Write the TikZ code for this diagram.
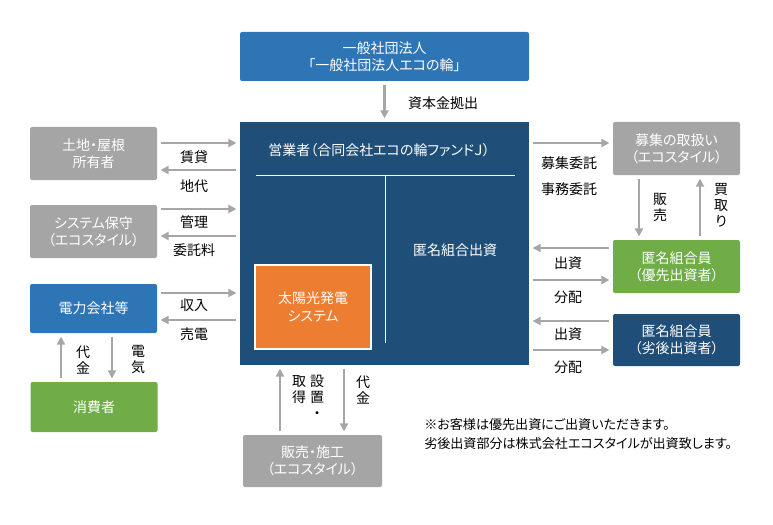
\documentclass[tikz,border=0pt]{standalone}
\usepackage{fontspec}
\setmainfont{Noto Sans CJK JP}[RawFeature={+palt}]
\usepackage{xcolor}
\definecolor{corpblue}{RGB}{46,117,182}
\definecolor{navy}{RGB}{31,78,121}
\definecolor{boxgray}{RGB}{165,165,165}
\definecolor{arrowgray}{RGB}{166,166,166}
\definecolor{leafgreen}{RGB}{112,173,71}
\definecolor{solarorange}{RGB}{237,125,49}
\usepackage{tikz}
\usetikzlibrary{arrows.meta, positioning, calc}

\begin{document}
\begin{tikzpicture}[x=0.75pt, y=-0.75pt,
    box/.style={rectangle, rounded corners=1.5pt, inner sep=0pt, text=white,
      minimum width=95.25pt, minimum height=39.75pt, align=center,
      font=\fontsize{10.5}{13}\selectfont},
    arrow/.style={draw=arrowgray, line width=1.6pt, -{Triangle[length=6pt, width=6pt]},
      shorten <=2.5pt, shorten >=2.5pt},
    lbl/.style={font=\fontsize{10.5}{12}\selectfont, align=center, inner sep=0pt}
]
\useasboundingbox (0,0) rectangle (773,524);

% operator in the middle
\node[box, fill=corpblue, minimum width=216.75pt, minimum height=36.75pt] (assoc) at (384.5,56.5) {一般社団法人\\「一般社団法人エコの輪」};
\node[box, fill=navy, rounded corners=0pt, minimum width=216.75pt, minimum height=182.25pt] (oper) at (384.5,243.5) {};
\node[lbl, text=white, anchor=west] (opertitle) at (268,150) {営業者（合同会社エコの輪ファンドＪ）};
\draw[white, line width=0.75pt] (256,175) -- (515,175);
\draw[white, line width=0.75pt] (385,175) -- (385,343);
\node[lbl, text=white] (tokumei) at (455,250) {匿名組合出資};
\node[box, fill=solarorange, draw=white, line width=1.5pt, rounded corners=0pt,
  minimum width=87pt, minimum height=63pt] (solar) at (313,307) {太陽光発電\\システム};

% left side
\node[box, fill=boxgray] (land) at (93.5,153.5) {土地・屋根\\所有者};
\node[box, fill=boxgray] (maint) at (93.5,231.5) {システム保守\\（エコスタイル）};
\node[box, fill=corpblue, minimum height=36.75pt] (power) at (93.5,308.5) {電力会社等};
\node[box, fill=leafgreen, minimum height=37.5pt] (consumer) at (94,407) {消費者};

% bottom
\node[box, fill=boxgray, minimum width=104.25pt, minimum height=39pt] (sales) at (312.5,461) {販売・施工\\（エコスタイル）};

% right side
\node[box, fill=boxgray] (recruit) at (676.5,148.5) {募集の取扱い\\（エコスタイル）};
\node[box, fill=leafgreen] (senior) at (676.5,266.5) {匿名組合員\\（優先出資者）};
\node[box, fill=navy, minimum height=39pt] (junior) at (676.5,340) {匿名組合員\\（劣後出資者）};

% connectors
\draw[arrow] (assoc) -- (oper);
\draw[arrow] (land.east |- 0,143) -- (oper.west |- 0,143);
\draw[arrow] (oper.west |- 0,170) -- (land.east |- 0,170);
\draw[arrow] (maint.east |- 0,209) -- (oper.west |- 0,209);
\draw[arrow] (oper.west |- 0,236) -- (maint.east |- 0,236);
\draw[arrow] (power.east |- 0,293) -- (oper.west |- 0,293);
\draw[arrow] (oper.west |- 0,320) -- (power.east |- 0,320);
\draw[arrow] (consumer.north -| 61,0) -- (power.south -| 61,0);
\draw[arrow] (power.south -| 112,0) -- (consumer.north -| 112,0);
\draw[arrow] (sales.north -| 280,0) -- (oper.south -| 280,0);
\draw[arrow] (oper.south -| 344,0) -- (sales.north -| 344,0);
\draw[arrow] (oper.east |- 0,143) -- (recruit.west |- 0,143);
\draw[arrow] (recruit.south -| 639,0) -- (senior.north -| 639,0);
\draw[arrow] (senior.north -| 700,0) -- (recruit.south -| 700,0);
\draw[arrow] (senior.west |- 0,248) -- (oper.east |- 0,248);
\draw[arrow] (oper.east |- 0,280) -- (senior.west |- 0,280);
\draw[arrow] (junior.west |- 0,321) -- (oper.east |- 0,321);
\draw[arrow] (oper.east |- 0,350) -- (junior.west |- 0,350);

% labels
\node[lbl] (capital) at (443,103) {資本金拠出};
\node[lbl] (lease) at (194,157) {賃貸};
\node[lbl] (rent) at (194,186) {地代};
\node[lbl] (manage) at (194,222) {管理};
\node[lbl] (fee) at (194,250) {委託料};
\node[lbl] (income) at (194,305) {収入};
\node[lbl] (sell) at (194,334) {売電};
\node[lbl] (paycons) at (83,360) {代\\金};
\node[lbl] (elec) at (138,360) {電\\気};
\node[lbl, anchor=north] (acquire) at (299,375) {取\\得};
\node[lbl, anchor=north] (install) at (317,375) {設\\置\\・};
\node[lbl] (paysales) at (363,390) {代\\金};
\node[lbl] (entrust) at (569,163) {募集委託};
\node[lbl] (office) at (569,189) {事務委託};
\node[lbl] (sale) at (660,207) {販\\売};
\node[lbl] (buyback) at (721,205) {買\\取\\り};
\node[lbl] (invsen) at (568,263) {出資};
\node[lbl] (distsen) at (568,297) {分配};
\node[lbl] (invjun) at (568,334) {出資};
\node[lbl] (distjun) at (568,367) {分配};
\node[lbl, anchor=west, align=left, font=\fontsize{9.8}{14.25}\selectfont] (note) at (424,434.5)
  {※お客様は優先出資にご出資いただきます。\\劣後出資部分は株式会社エコスタイルが出資致します。};
\end{tikzpicture}
\end{document}
